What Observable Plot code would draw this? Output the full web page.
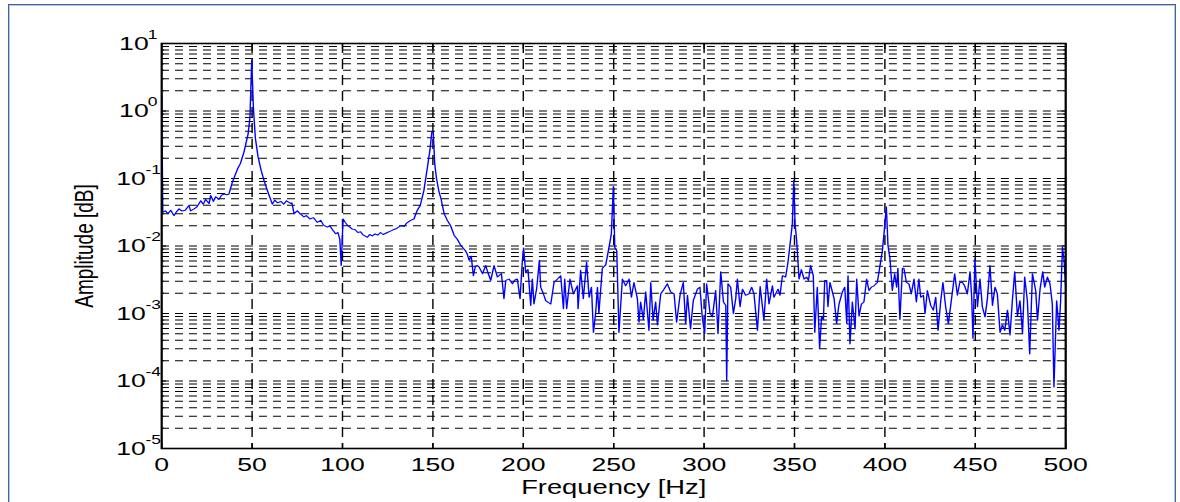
<!DOCTYPE html>
<html><head><meta charset="utf-8">
<script src="https://cdn.jsdelivr.net/npm/d3@7"></script>
<script src="https://cdn.jsdelivr.net/npm/@observablehq/plot@0.6"></script>
<style>
html,body{margin:0;padding:0;background:#fff;overflow:hidden;width:1180px;height:502px;}
#frame{position:absolute;left:8px;top:4px;width:1168px;height:600px;border:1px solid #3e6597;box-shadow:inset 0 0 0 1px #b4c8e2;box-sizing:border-box;}
#chart{position:absolute;left:0;top:0;width:843px;height:502px;transform:scaleX(1.399763);transform-origin:0 0;}
</style></head><body>
<div id="frame"></div>
<div id="chart"></div>
<script>
// Spectrum: frequency [Hz] and log10 of amplitude
const freqHz = [
0,0.6,2,3.5,5,6.8,8,9.6,11,13,15.1,16,17.9,19.5,21.6,23,24.3,26.2,27.1,28.6,29.9,31.7,33,34.5,36,37.2,39,41.9,43.5,45.5,47.8,48.8,49.8,50.7,51.8,53.3,55,56.6,59,61.2,62.5,64,66,67.5,69,71.3,72,73.2,75,76.5,78.7,80,82,84,86,88,89.5,91.6,93,94.5,96.2,97.5,98.5,99.3,100.3,101.5,103,104,105.5,107,108.5,110,111.5,113.8,115,116.5,118,119.5,121,122.5,124.8,126.5,128,130,132.2,134,135.5,137.7,139.5,141.4,143,145,147,148.5,149.4,150.2,151,152,153.4,154.5,156.2,158,159.8,161.7,163.5,165.4,168,169,170,171.2,172.4,173.5,174.6,175.5,177.4,179.2,180.5,182,183.8,185.7,187.9,189.3,190.3,192.1,194,195.5,196.7,198.2,199.5,200.2,
201.3,202.6,204.1,205,205.9,207.4,208.9,209.6,211,212.4,214,215.2,217,218.9,220.7,222.2,222.9,224,225.8,227.7,229.9,230.3,231.7,233.2,235,236.4,237.7,238.8,240,241,241.8,243.7,245.6,247.4,248.7,249.8,250.6,251.7,252.9,254.8,256.6,258.5,259.8,261.2,263.1,264,264.9,266.4,267.7,269.5,270.5,271.8,273.2,274.2,276,277.8,279.7,281.5,283.4,284.8,286.7,288.5,289.8,290.8,292.5,294,296.3,297.7,299,300.3,301.4,303.3,304.6,306.4,307.7,309.2,310.7,312,312.5,313.2,314.7,316.2,317.5,318.4,319.9,321.2,323,324.8,326.3,327.6,329.5,331,333.1,334.6,335.9,337.8,338.6,340.9,342,343.3,345.1,346.4,347.9,348.8,349.6,350.3,351.2,352.5,353.8,355.3,356.7,357.7,358.9,360.4,361.2,362.6,363.9,365,366,366.7,367.8,368.5,369.6,371.9,373.3,374.6,376.5,377.8,378.9,379.6,380.7,382,383.5,384.4,385.7,387,388.4,389.9,391.2,392.5,394,395.8,397.3,398.6,399.5,400.8,401.7,402.8,404.1,405.4,406.5,407.2,408.3,409.7,410.5,411.9,413.3,414.6,416.1,417.4,418.8,419.8,421.3,422.2,423.5,425.3,426.8,428.1,429.4,430.9,432.1,433.6,435.1,436.4,438.6,440.1,441.4,442.9,444.1,445.6,447.1,448,448.7,449.8,451.2,452.6,453.9,455.4,456.7,458.1,459.5,460.9,462.2,463.7,465,466.3,467.8,469.2,470.5,471.8,473.3,474.7,476.1,477.3,478.8,480.1,481.6,483.4,484.4,485.8,487.3,488.4,489.9,491.3,492.6,493.5,495,496.3,497.2,498.2,499.1,500];
const log10Amp = [
0.23,-1.50,-1.48,-1.52,-1.47,-1.55,-1.50,-1.45,-1.48,-1.47,-1.40,-1.48,-1.45,-1.42,-1.33,-1.38,-1.31,-1.37,-1.25,-1.34,-1.27,-1.31,-1.25,-1.23,-1.24,-1.23,-1.06,-0.86,-0.78,-0.61,-0.34,-0.10,0.75,0.06,-0.40,-0.68,-0.88,-1.03,-1.22,-1.38,-1.32,-1.36,-1.34,-1.38,-1.33,-1.37,-1.36,-1.52,-1.48,-1.52,-1.57,-1.55,-1.60,-1.58,-1.65,-1.62,-1.69,-1.72,-1.70,-1.76,-1.82,-1.80,-1.90,-2.29,-1.60,-1.65,-1.70,-1.72,-1.75,-1.76,-1.80,-1.79,-1.84,-1.87,-1.83,-1.85,-1.82,-1.84,-1.80,-1.83,-1.80,-1.78,-1.76,-1.74,-1.70,-1.71,-1.66,-1.62,-1.60,-1.47,-1.40,-1.18,-0.83,-0.55,-0.31,-0.32,-0.78,-1.00,-1.20,-1.30,-1.52,-1.62,-1.70,-1.84,-1.90,-1.99,-2.07,-2.12,-2.21,-2.15,-2.44,-2.30,-2.29,-2.31,-2.41,-2.29,-2.40,-2.51,-2.29,-2.46,-2.41,-2.78,-2.51,-2.49,-2.56,-2.50,-2.49,-2.78,-2.21,-2.03,
-2.39,-2.35,-2.88,-2.49,-2.86,-2.63,-2.21,-2.61,-2.70,-2.81,-2.84,-2.86,-2.54,-2.49,-2.44,-2.93,-2.49,-2.93,-2.49,-2.71,-2.59,-2.93,-2.36,-2.78,-2.24,-2.76,-2.61,-3.28,-3.00,-2.61,-3.00,-2.33,-2.28,-2.02,-1.82,-1.12,-2.02,-2.07,-3.28,-2.49,-2.59,-2.49,-2.76,-2.54,-2.78,-3.13,-2.83,-3.09,-2.68,-3.25,-2.54,-3.10,-2.83,-3.17,-2.71,-2.64,-2.56,-2.68,-2.71,-3.13,-2.73,-2.54,-3.15,-2.73,-3.23,-2.81,-2.64,-2.61,-3.06,-3.30,-2.56,-3.00,-3.05,-2.66,-3.30,-2.38,-2.83,-2.88,-4.00,-2.56,-2.61,-3.00,-2.78,-2.49,-2.90,-2.64,-2.73,-2.71,-2.61,-2.71,-3.25,-2.60,-3.10,-2.49,-2.86,-2.59,-2.76,-2.64,-2.73,-2.44,-2.46,-2.24,-1.89,-1.67,-1.03,-1.67,-1.92,-2.49,-2.35,-2.49,-2.46,-2.51,-2.29,-2.44,-3.28,-2.61,-3.52,-3.04,-3.09,-2.51,-2.51,-2.90,-2.54,-2.78,-3.15,-2.86,-2.68,-2.61,-3.15,-2.44,-3.45,-2.83,-3.23,-2.49,-3.04,-2.86,-2.83,-2.49,-2.66,-2.61,-2.59,-2.54,-2.29,-2.07,-1.82,-1.42,-1.99,-2.19,-2.66,-2.41,-2.61,-2.33,-3.09,-2.33,-2.33,-2.54,-2.56,-2.71,-2.49,-2.83,-2.49,-2.76,-2.73,-3.00,-2.66,-2.88,-2.95,-2.76,-3.25,-2.81,-2.54,-2.90,-3.15,-2.88,-2.41,-2.73,-2.54,-2.54,-2.59,-2.71,-2.38,-2.76,-3.37,-2.19,-2.90,-2.49,-2.90,-3.05,-2.78,-2.29,-2.88,-2.61,-2.71,-3.28,-3.17,-3.25,-2.95,-3.32,-2.81,-2.38,-3.04,-2.81,-3.30,-2.46,-2.81,-3.60,-2.41,-2.66,-3.10,-2.64,-2.38,-2.61,-2.46,-2.56,-2.86,-4.09,-2.81,-3.25,-2.81,-2.02,-2.21,-2.61];

const xTicks = [0, 50, 100, 150, 200, 250, 300, 350, 400, 450, 500];
const decadesPos = [1, 10];
const decadesNeg = [1e-5, 1e-4, 1e-3, 1e-2, 1e-1];
const decades = [...decadesNeg, ...decadesPos];
const minorMultipliers = [2, 3, 4, 5, 6, 7, 8, 9];
const minorTicks = decades.slice(0, -1).flatMap(d => minorMultipliers.map(m => m * d));
const xLabel = "Frequency [Hz]";
const yLabel = "Amplitude [dB]";

const rows = freqHz.map((f, i) => ({f, amp: Math.pow(10, log10Amp[i])}));

const S = 1180 / 843;           // horizontal stretch of the original picture
const W = 843;
const font = "'Liberation Sans', Arial, Helvetica, sans-serif";
const expFmt = d => String(Math.round(Math.log10(d)));
const blank = () => "";

const chart = Plot.plot({
  width: W, height: 502,
  marginLeft: 161 / S, marginRight: W - 1065 / S, marginTop: 43, marginBottom: 54,
  style: {fontFamily: font, background: "transparent", overflow: "visible", color: "#000"},
  x: {domain: [0, 500], label: null},
  y: {type: "log", domain: [1e-5, 10], label: null},
  marks: [
    Plot.ruleY([...decades, ...minorTicks], {stroke: "#000", strokeWidth: 1, strokeDasharray: "5.7,4.3"}),
    Plot.ruleX(xTicks.slice(1, -1), {stroke: "#000", strokeWidth: 1, strokeDasharray: "10,6"}),
    Plot.line(rows, {x: "f", y: "amp", stroke: "#0000ff", strokeWidth: 1}),
    Plot.frame({stroke: "#000", strokeWidth: 1.6}),
    // inward ticks
    Plot.axisX(xTicks, {anchor: "bottom", label: null, tickSize: -5, tickFormat: blank}),
    Plot.axisX(xTicks, {anchor: "top", label: null, tickSize: -5, tickFormat: blank}),
    Plot.axisY(decades, {anchor: "left", label: null, tickSize: -5 / S, tickFormat: blank}),
    Plot.axisY(decades, {anchor: "right", label: null, tickSize: -5 / S, tickFormat: blank}),
    Plot.axisY(minorTicks, {anchor: "left", label: null, tickSize: -3 / S, tickFormat: blank}),
    Plot.axisY(minorTicks, {anchor: "right", label: null, tickSize: -3 / S, tickFormat: blank}),
    // labels
    Plot.axisX(xTicks, {anchor: "bottom", label: null, tickSize: 0, tickPadding: 9, fontSize: 19, tickFormat: d => String(d)}),
    Plot.axisY(decadesPos, {anchor: "left", label: null, tickSize: 0, tickPadding: 9.3, fontSize: 19, tickFormat: () => "10"}),
    Plot.axisY(decadesNeg, {anchor: "left", label: null, tickSize: 0, tickPadding: 11.4, fontSize: 19, tickFormat: () => "10"}),
    Plot.axisY(decadesPos, {anchor: "left", label: null, tickSize: 0, tickPadding: 10, textAnchor: "start", dy: -9, fontSize: 12.5, tickFormat: expFmt}),
    Plot.axisY(decadesNeg, {anchor: "left", label: null, tickSize: 0, tickPadding: 11.6, textAnchor: "start", dy: -9, fontSize: 12.5, tickFormat: expFmt}),
    Plot.text([xLabel], {frameAnchor: "bottom", textAnchor: "middle", dy: 39.5, fontSize: 19.5, lineAnchor: "middle", text: d => d}),
    Plot.text([yLabel], {frameAnchor: "left", textAnchor: "middle", dx: 60 - 161 / S, rotate: -90, fontSize: 19, lineAnchor: "middle", text: d => d})
  ]
});
document.getElementById("chart").appendChild(chart);
</script>
</body></html>
